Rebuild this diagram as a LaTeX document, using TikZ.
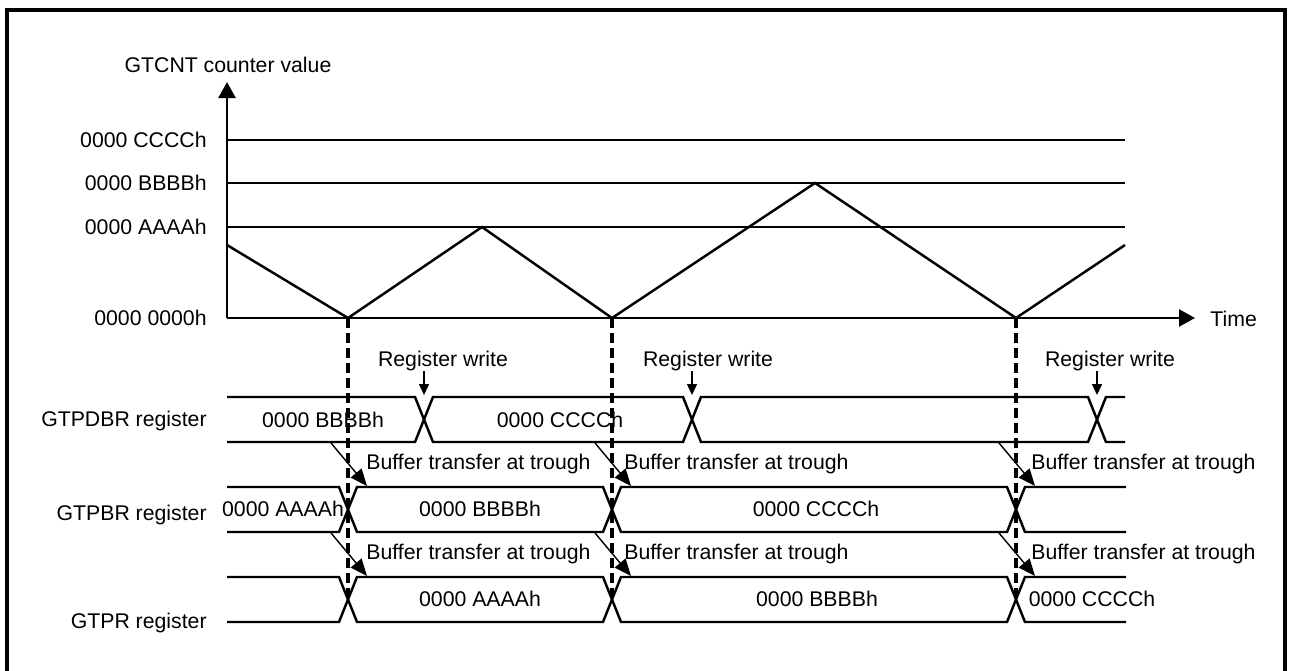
\documentclass[tikz,border=0pt]{standalone}
\usepackage{fontspec}
\setmainfont{Liberation Sans}
\usetikzlibrary{arrows.meta}

\begin{document}
\begin{tikzpicture}[
x=0.02cm, y=-0.02cm,
every node/.style={inner sep=0pt, font=\fontsize{12.1}{14}\selectfont},
line/.style={line width=1.4pt},
thinarrow/.style={-{Triangle[length=0.22cm,width=0.2cm]}, line width=0.8pt},
transfer/.style={-{Triangle[length=0.34cm,width=0.28cm]}, line width=0.8pt},
axis/.style={-{Triangle[length=0.32cm,width=0.34cm]}, line width=1.4pt},
trough/.style={dash pattern=on 0.2cm off 0.1cm, line width=1.9pt}
]
\useasboundingbox (0,0) rectangle (1290,670);

% frame
\draw[line width=1.8pt] (7,680) -- (7,10) -- (1285,10) -- (1285,680);

% counter axes
\coordinate (O) at (227,318);
\coordinate (ytop) at (227,82);
\coordinate (xend) at (1195,318);
\draw[axis] (O) -- (ytop);
\draw[axis] (O) -- (xend);
\node[anchor=base] (ylabel) at (228,72) {GTCNT counter value};
\node[anchor=base west] (xlabel) at (1210,326) {Time};

% compare levels
\foreach \y/\txt/\name in {140/0000 CCCCh/lc, 183/0000 BBBBh/lb, 227/0000 AAAAh/la} {
  \draw[line] (227,\y) -- (1125,\y);
  \node[anchor=east] (\name) at (207,\y) {\txt};
}
\node[anchor=east] (lz) at (207,318) {0000 0000h};

% triangle wave
\coordinate (t1) at (348,318);
\coordinate (t2) at (612,318);
\coordinate (t3) at (1016,318);
\draw[line] (227,245) -- (t1) -- (482,227) -- (t2) -- (815,183) -- (t3) -- (1125,245);
\foreach \tx in {348,612,1016}
  \draw[trough] (\tx,318) -- (\tx,597);

% register rows
\node[anchor=base east] (gtpdbr) at (207,426) {GTPDBR register};
\node[anchor=base east] (gtpbr) at (207,520) {GTPBR register};
\node[anchor=base east] (gtpr) at (207,628) {GTPR register};

% GTPDBR
\draw[line] (227,397) -- (415,397) -- (433,442) -- (683,442) -- (701,397) -- (1088,397) -- (1106,442) -- (1125,442);
\draw[line] (227,442) -- (415,442) -- (433,397) -- (683,397) -- (701,442) -- (1088,442) -- (1106,397) -- (1125,397);
\node (pdb1) at (323,420) {0000 BBBBh};
\node (pdb2) at (560,420) {0000 CCCCh};

% GTPBR
\draw[line] (227,487) -- (339,487) -- (357,532) -- (603,532) -- (621,487) -- (1007,487) -- (1025,532) -- (1126,532);
\draw[line] (227,532) -- (339,532) -- (357,487) -- (603,487) -- (621,532) -- (1007,532) -- (1025,487) -- (1126,487);
\node (pb1) at (283,509) {0000 AAAAh};
\node (pb2) at (480,509) {0000 BBBBh};
\node (pb3) at (816,509) {0000 CCCCh};

% GTPR
\draw[line] (227,577) -- (339,577) -- (357,622) -- (603,622) -- (621,577) -- (1007,577) -- (1025,622) -- (1126,622);
\draw[line] (227,622) -- (339,622) -- (357,577) -- (603,577) -- (621,622) -- (1007,622) -- (1025,577) -- (1126,577);
\node (pr1) at (480,599) {0000 AAAAh};
\node (pr2) at (817,599) {0000 BBBBh};
\node (pr3) at (1092,599) {0000 CCCCh};

% register writes
\foreach \wx/\lx [count=\i] in {424/443, 692/708, 1097/1110} {
  \node[anchor=base] (rw\i) at (\lx,366) {Register write};
  \coordinate (w\i) at (\wx,395);
  \draw[thinarrow] (rw\i.south -| w\i) -- (w\i);
}

% buffer transfers
\foreach \tx/\lx [count=\i] in {348/366, 612/624, 1016/1031} {
  \node[anchor=base west] (bta\i) at (\lx,469) {Buffer transfer at trough};
  \node[anchor=base west] (btb\i) at (\lx,559) {Buffer transfer at trough};
  \draw[transfer] (\tx-17,443) -- (\tx+19,486);
  \draw[transfer] (\tx-17,533) -- (\tx+19,576);
}
\end{tikzpicture}
\end{document}
